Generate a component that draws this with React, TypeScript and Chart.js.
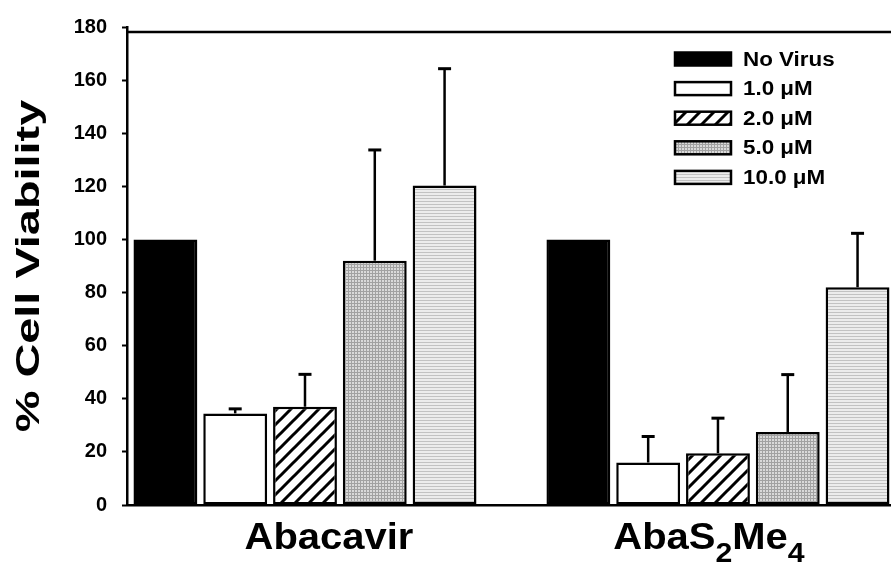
import React, { useEffect, useRef } from 'react';
import { Chart, registerables } from 'chart.js';

Chart.register(...registerables);

// ---------- data ----------
const categories = ['Abacavir', 'AbaS₂Me₄'];
const seriesNames = ['No Virus', '1.0 μM', '2.0 μM', '5.0 μM', '10.0 μM'];
const noVirus = [100, 100];
const dose1 = [34.5, 16];
const dose2 = [37, 19.5];
const dose5 = [92, 27.5];
const dose10 = [120.3, 82];
const noVirusErr = [0, 0];
const dose1Err = [1.7, 9.8];
const dose2Err = [12.2, 13.2];
const dose5Err = [41.7, 21.6];
const dose10Err = [44, 20.3];
const yTicks = [0, 20, 40, 60, 80, 100, 120, 140, 160, 180];
const yTitle = '% Cell Viability';

const FONT = '"Liberation Sans", Arial, Helvetica, sans-serif';

function makePattern(kind: string): CanvasPattern | string {
  const c = document.createElement('canvas');
  const ctx = c.getContext('2d');
  if (!ctx) return '#fff';
  if (kind === 'hatch') {
    const s = 14;
    c.width = s;
    c.height = s;
    ctx.fillStyle = '#fff';
    ctx.fillRect(0, 0, s, s);
    ctx.strokeStyle = '#000';
    ctx.lineWidth = 3;
    ctx.beginPath();
    ctx.moveTo(-2, s + 2);
    ctx.lineTo(s + 2, -2);
    ctx.moveTo(-2, 2);
    ctx.lineTo(2, -2);
    ctx.moveTo(s - 2, s + 2);
    ctx.lineTo(s + 2, s - 2);
    ctx.stroke();
  } else if (kind === 'grid') {
    c.width = 3;
    c.height = 3;
    ctx.fillStyle = '#dadada';
    ctx.fillRect(0, 0, 3, 3);
    ctx.fillStyle = '#a2a2a2';
    ctx.fillRect(0, 0, 3, 1);
    ctx.fillRect(0, 0, 1, 3);
  } else {
    c.width = 3;
    c.height = 3;
    ctx.fillStyle = '#ececec';
    ctx.fillRect(0, 0, 3, 3);
    ctx.fillStyle = '#c2c2c2';
    ctx.fillRect(0, 0, 3, 1);
  }
  return ctx.createPattern(c, 'repeat') || '#ccc';
}

const SUBS: Record<string, string> = {
  '₀': '0', '₁': '1', '₂': '2', '₃': '3', '₄': '4',
  '₅': '5', '₆': '6', '₇': '7', '₈': '8', '₉': '9',
};

function drawRich(ctx: CanvasRenderingContext2D, text: string, cx: number, baseline: number,
  size: number, subSize: number, subDrop: number, scaleX: number) {
  const segs: { t: string; sub: boolean }[] = [];
  for (const ch of text) {
    const sub = ch in SUBS;
    const t = sub ? SUBS[ch] : ch;
    const last = segs[segs.length - 1];
    if (last && last.sub === sub) last.t += t;
    else segs.push({ t, sub });
  }
  let total = 0;
  const widths: number[] = [];
  for (const s of segs) {
    ctx.font = `bold ${s.sub ? subSize : size}px ${FONT}`;
    const w = ctx.measureText(s.t).width;
    widths.push(w);
    total += w;
  }
  ctx.save();
  ctx.translate(cx, baseline);
  ctx.scale(scaleX, 1);
  ctx.textAlign = 'left';
  ctx.textBaseline = 'alphabetic';
  ctx.fillStyle = '#000';
  let x = -total / 2;
  segs.forEach((s, i) => {
    ctx.font = `bold ${s.sub ? subSize : size}px ${FONT}`;
    ctx.fillText(s.t, x, s.sub ? subDrop : 0);
    x += widths[i];
  });
  ctx.restore();
}

export default function App() {
  const ref = useRef<HTMLCanvasElement | null>(null);

  useEffect(() => {
    const canvas = ref.current;
    if (!canvas) return;
    const values = [noVirus, dose1, dose2, dose5, dose10];
    const errs = [noVirusErr, dose1Err, dose2Err, dose5Err, dose10Err];
    const fills = ['#000', '#fff', makePattern('hatch'), makePattern('grid'), makePattern('horiz')];

    const datasets = values.map((vals, i) => ({
      label: seriesNames[i],
      data: vals.map((v, j) => ({ x: j, y: v })),
      backgroundColor: fills[i] as any,
      borderColor: '#000',
      borderWidth: 2.5,
      borderSkipped: false as any,
      categoryPercentage: 0.845,
      barPercentage: 0.915,
    }));

    const decor = {
      id: 'decor',
      afterDatasetsDraw(chart: any) {
        const ctx: CanvasRenderingContext2D = chart.ctx;
        const yS = chart.scales.y;
        ctx.save();
        ctx.strokeStyle = '#000';
        chart.data.datasets.forEach((ds: any, i: number) => {
          const meta = chart.getDatasetMeta(i);
          meta.data.forEach((bar: any, j: number) => {
            const e = errs[i][j];
            if (!e) return;
            const v = values[i][j];
            const yTop = yS.getPixelForValue(v + e);
            ctx.lineWidth = 2.5;
            ctx.beginPath();
            ctx.moveTo(bar.x, bar.y);
            ctx.lineTo(bar.x, yTop);
            ctx.stroke();
            ctx.lineWidth = 3;
            ctx.beginPath();
            ctx.moveTo(bar.x - 6.5, yTop);
            ctx.lineTo(bar.x + 6.5, yTop);
            ctx.stroke();
          });
        });
        ctx.restore();
      },
      afterDraw(chart: any) {
        const ctx: CanvasRenderingContext2D = chart.ctx;
        const area = chart.chartArea;
        const xS = chart.scales.x;
        ctx.save();
        // top frame line
        ctx.strokeStyle = '#000';
        ctx.lineWidth = 2.5;
        ctx.beginPath();
        ctx.moveTo(area.left, area.top + 5);
        ctx.lineTo(area.right, area.top + 5);
        ctx.stroke();

        // y title
        ctx.save();
        ctx.translate(area.left - 88, (area.top + area.bottom) / 2);
        ctx.rotate(-Math.PI / 2);
        ctx.scale(1.42, 1);
        ctx.font = `bold 33px ${FONT}`;
        ctx.textAlign = 'center';
        ctx.textBaseline = 'alphabetic';
        ctx.fillStyle = '#000';
        ctx.fillText(yTitle, 0, 0);
        ctx.restore();

        // x category labels
        const dx = [24, -9];
        categories.forEach((c, i) => {
          drawRich(ctx, c, xS.getPixelForValue(i) + dx[i], area.bottom + 44, 37, 28, 13, 1.08);
        });

        // legend
        const lx = area.right - 216;
        const ly0 = area.top + 32;
        chart.data.datasets.forEach((ds: any, i: number) => {
          const cy = ly0 + i * 29.6;
          ctx.fillStyle = ds.backgroundColor;
          ctx.fillRect(lx, cy - 6.5, 56, 13);
          ctx.strokeStyle = '#000';
          ctx.lineWidth = 2.5;
          ctx.strokeRect(lx, cy - 6.5, 56, 13);
          ctx.save();
          ctx.translate(lx + 68, cy);
          ctx.scale(1.12, 1);
          ctx.fillStyle = '#000';
          ctx.font = `bold 20px ${FONT}`;
          ctx.textAlign = 'left';
          ctx.textBaseline = 'middle';
          ctx.fillText(ds.label, 0, 1);
          ctx.restore();
        });
        ctx.restore();
      },
    };

    const chart = new Chart(canvas, {
      type: 'bar',
      data: { datasets },
      options: {
        responsive: false,
        animation: false,
        devicePixelRatio: 1,
        layout: { padding: { top: 26, right: 0, left: 0, bottom: 0 } },
        plugins: {
          legend: { display: false },
          tooltip: { enabled: false },
        },
        scales: {
          x: {
            type: 'linear',
            min: -0.431,
            max: 1.419,
            offset: false,
            grid: { display: false },
            border: { display: true, color: '#000', width: 2.5 },
            ticks: { display: false },
            afterBuildTicks: (s: any) => {
              s.ticks = categories.map((_, i) => ({ value: i }));
            },
            afterFit: (s: any) => {
              s.height = 58;
            },
          },
          y: {
            type: 'linear',
            min: yTicks[0],
            max: yTicks[yTicks.length - 1],
            afterBuildTicks: (s: any) => {
              s.ticks = yTicks.map((v) => ({ value: v }));
            },
            ticks: {
              color: '#000',
              padding: 15,
              font: { family: FONT, size: 20, weight: 'bold' },
            },
            grid: {
              display: true,
              drawOnChartArea: false,
              drawTicks: true,
              tickLength: 5,
              tickColor: '#000',
              tickWidth: 2,
            },
            border: { display: true, color: '#000', width: 2.5 },
            afterFit: (s: any) => {
              s.width = 127;
            },
          },
        },
      } as any,
      plugins: [decor],
    });
    return () => chart.destroy();
  }, []);

  return (
    <div style={{ position: 'absolute', left: 0, top: 0, width: 891, height: 563, background: '#fff' }}>
      <canvas ref={ref} width={891} height={563} style={{ display: 'block' }} />
    </div>
  );
}
